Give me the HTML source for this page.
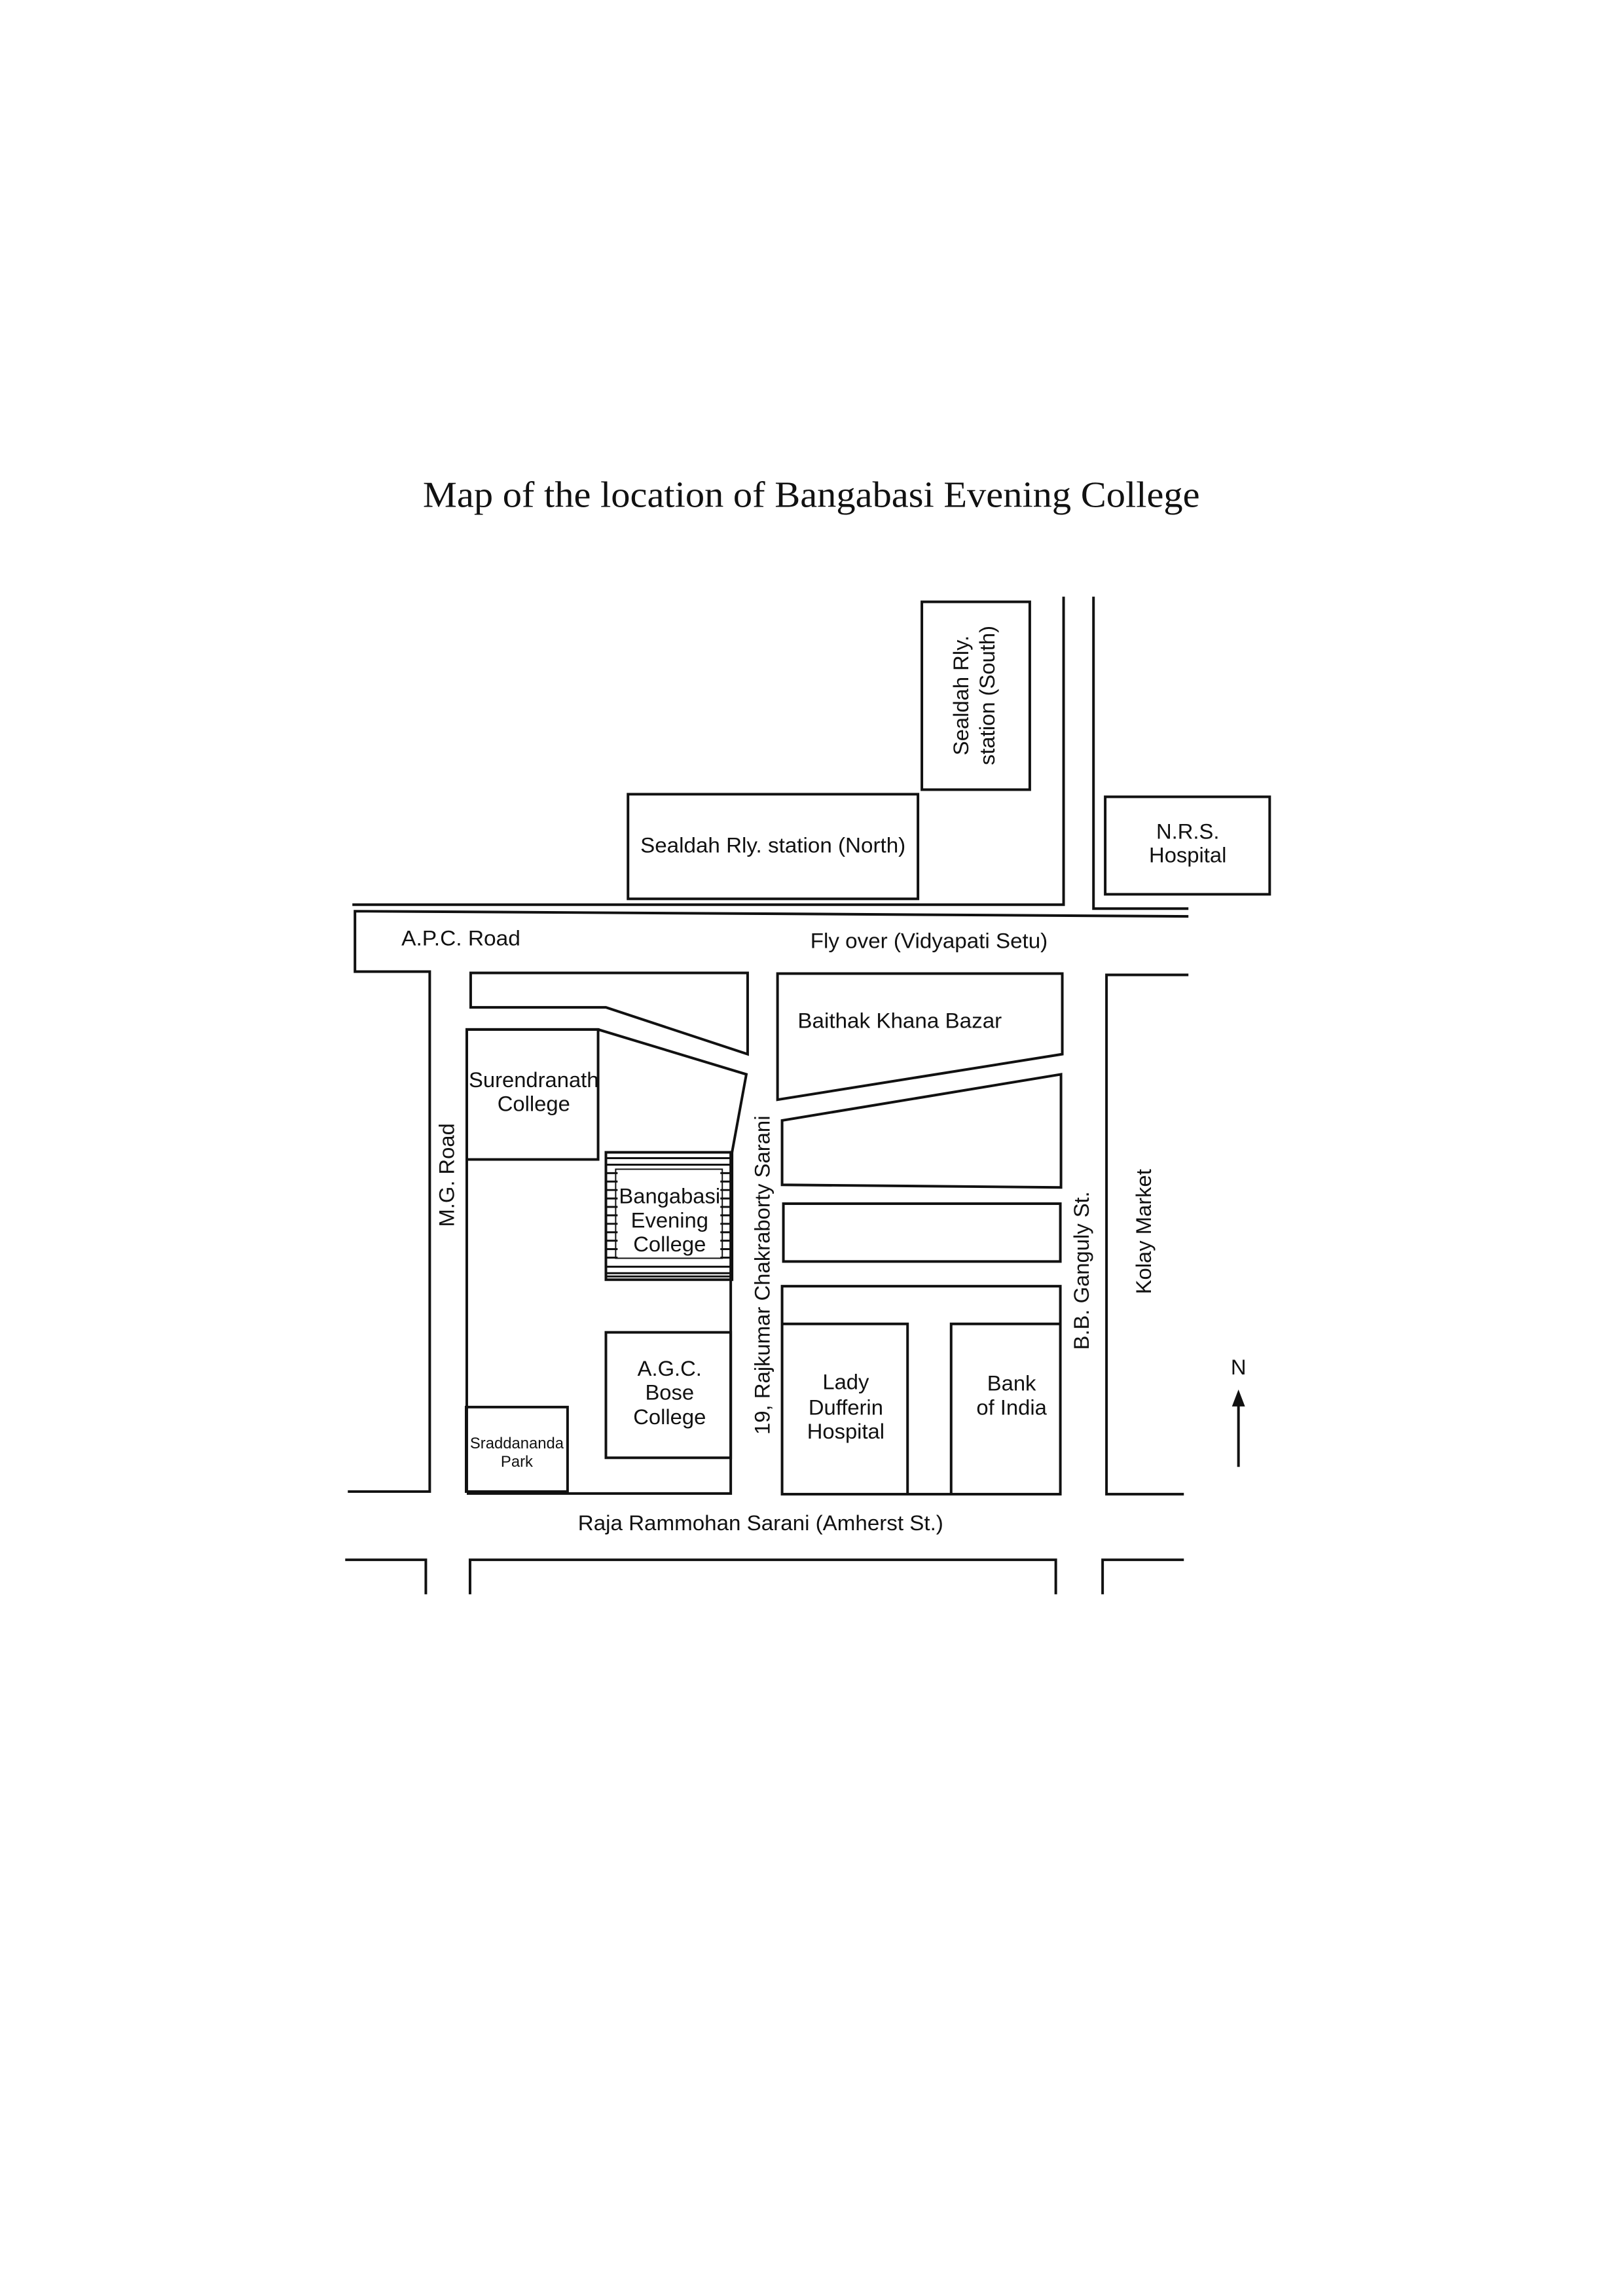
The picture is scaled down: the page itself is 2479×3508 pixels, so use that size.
<!DOCTYPE html>
<html><head><meta charset="utf-8"><style>
html,body{margin:0;padding:0;background:#fff;}
svg{display:block;}
text{font-family:"Liberation Sans",Arial,sans-serif;fill:#111;}
</style></head><body>
<svg width="2479" height="3508" viewBox="0 0 2479 3508" xmlns="http://www.w3.org/2000/svg">
<rect width="2479" height="3508" fill="#fff"/>
<g transform="scale(0.993)">
<text x="1248" y="780" text-anchor="middle" style="font-family:'Liberation Serif',serif;font-size:56px;" textLength="1195" lengthAdjust="spacingAndGlyphs">Map of the location of Bangabasi Evening College</text>
<g fill="none" stroke="#111" stroke-width="4">
<rect x="1418" y="926" width="166" height="289"/>
<rect x="966" y="1222" width="446" height="161"/>
<rect x="1700" y="1226" width="253" height="150"/>
<polyline points="542,1392 1636,1392 1636,918"/>
<polyline points="1682,918 1682,1398 1828,1398"/>
<polyline points="1828,1410 1200,1406 546,1402 546,1495 661,1495 661,2295 535,2295"/>
<polygon points="724,1497 1150,1497 1150,1622 932,1550 724,1550"/>
<polyline points="718,2295 718,1584 920,1584 1148,1653 1126,1773 1124,1773 1124,2298 718,2298"/>
<rect x="718" y="1584" width="202" height="200"/>
<rect x="932" y="1773" width="194" height="196"/>
<rect x="947" y="1799" width="164" height="137" stroke-width="2"/>
<rect x="932" y="2050" width="192" height="193"/>
<rect x="717" y="2165" width="156" height="130"/>
<polygon points="1196,1498 1634,1498 1634,1622 1196,1692"/>
<polygon points="1203,1724 1632,1653 1632,1827 1203,1823"/>
<rect x="1205" y="1852" width="426" height="89"/>
<rect x="1203" y="1979" width="428" height="320"/>
<polyline points="1203,2037 1396,2037 1396,2299"/>
<polyline points="1463,2299 1463,2037 1631,2037"/>
<polyline points="1828,1500 1702,1500 1702,2299 1821,2299"/>
<polyline points="531,2400 655,2400 655,2453"/>
<polyline points="723,2453 723,2400 1624,2400 1624,2453"/>
<polyline points="1696,2453 1696,2400 1821,2400"/>
<line x1="1905" y1="2158" x2="1905" y2="2257"/>
</g>
<polygon points="1905,2138 1895,2164 1915,2164" fill="#111"/>
<g stroke="#111" stroke-width="3">
<line x1="932" y1="1782" x2="1126" y2="1782"/>
<line x1="932" y1="1792" x2="1126" y2="1792"/>
<line x1="932" y1="1949" x2="1126" y2="1949"/>
<line x1="932" y1="1959" x2="1126" y2="1959"/>
<line x1="932" y1="1964" x2="1126" y2="1964"/>
</g>
<g stroke="#111" stroke-width="3">
<path d="M932 1805h18M932 1818h18M932 1831h18M932 1844h18M932 1857h18M932 1870h18M932 1883h18M932 1896h18M932 1909h18M932 1922h18M932 1935h18"/>
<path d="M1108 1805h18M1108 1818h18M1108 1831h18M1108 1844h18M1108 1857h18M1108 1870h18M1108 1883h18M1108 1896h18M1108 1909h18M1108 1922h18M1108 1935h18"/>
</g>
<g font-size="33" text-anchor="middle" dominant-baseline="central">
<text x="1189" y="1300" textLength="408" lengthAdjust="spacingAndGlyphs">Sealdah Rly. station (North)</text>
<text x="1827" y="1279">N.R.S.</text>
<text x="1827" y="1315">Hospital</text>
<text x="709" y="1443" textLength="183" lengthAdjust="spacingAndGlyphs">A.P.C. Road</text>
<text x="1429" y="1447" textLength="365" lengthAdjust="spacingAndGlyphs">Fly over (Vidyapati Setu)</text>
<text x="1384" y="1570" textLength="314" lengthAdjust="spacingAndGlyphs">Baithak Khana Bazar</text>
<text x="821" y="1661">Surendranath</text>
<text x="821" y="1698">College</text>
<text x="1030" y="1840">Bangabasi</text>
<text x="1030" y="1877">Evening</text>
<text x="1030" y="1914">College</text>
<text x="1030" y="2105">A.G.C.</text>
<text x="1030" y="2142">Bose</text>
<text x="1030" y="2180">College</text>
<text x="1301" y="2126">Lady</text>
<text x="1301" y="2165">Dufferin</text>
<text x="1301" y="2202">Hospital</text>
<text x="1556" y="2128">Bank</text>
<text x="1556" y="2165">of India</text>
<text x="795" y="2221" font-size="24">Sraddananda</text>
<text x="795" y="2249" font-size="24">Park</text>
<text x="1170" y="2343" textLength="562" lengthAdjust="spacingAndGlyphs">Raja Rammohan Sarani (Amherst St.)</text>
<text x="1905" y="2103">N</text>
<text transform="translate(1478,1070) rotate(-90)">Sealdah Rly.</text>
<text transform="translate(1518,1070) rotate(-90)">station (South)</text>
<text transform="translate(687,1808) rotate(-90)">M.G. Road</text>
<text transform="translate(1172,1962) rotate(-90)" textLength="491" lengthAdjust="spacingAndGlyphs">19, Rajkumar Chakraborty Sarani</text>
<text transform="translate(1663,1955) rotate(-90)">B.B. Ganguly St.</text>
<text transform="translate(1759,1895) rotate(-90)">Kolay Market</text>
</g>
</g>
</svg>
</body></html>
